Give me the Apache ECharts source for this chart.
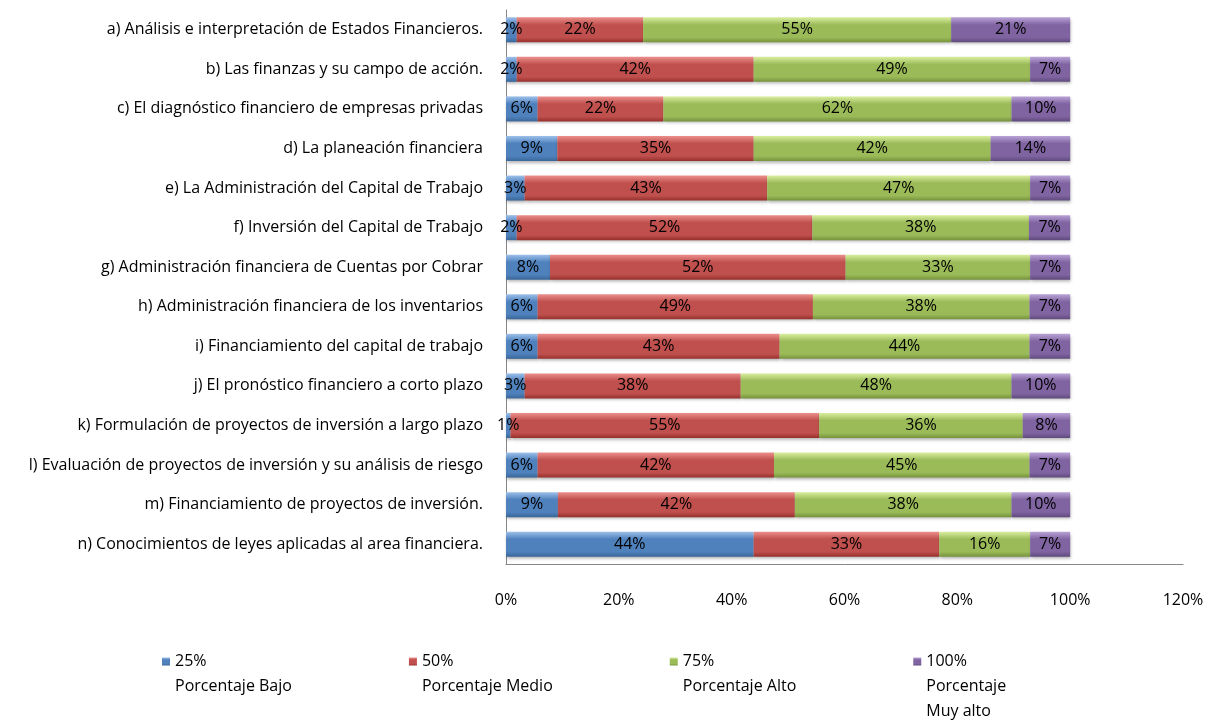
<!DOCTYPE html>
<html>
<head>
<meta charset="utf-8">
<script src="https://cdn.jsdelivr.net/npm/echarts@6/dist/echarts.min.js"></script>
<style>
    html, body { margin: 0; padding: 0; background: #fff; }
    #chart { width: 1207px; height: 722px; }
</style>
</head>
<body>
<div id="chart"></div>
<script>
var categories = [
    'a) Análisis e interpretación de Estados Financieros.',
    'b) Las finanzas y su campo de acción.',
    'c) El diagnóstico financiero de empresas privadas',
    'd) La planeación financiera',
    'e) La Administración del Capital de Trabajo',
    'f) Inversión del Capital de Trabajo',
    'g) Administración financiera de Cuentas por Cobrar',
    'h) Administración financiera de los inventarios',
    'i) Financiamiento del capital de trabajo',
    'j) El pronóstico financiero a corto plazo',
    'k) Formulación de proyectos de inversión a largo plazo',
    'l) Evaluación de proyectos de inversión y su análisis de riesgo',
    'm) Financiamiento de proyectos de inversión.',
    'n) Conocimientos de leyes aplicadas al area financiera.'
];

var seriesNames = [
    '25%\nPorcentaje Bajo',
    '50%\nPorcentaje Medio',
    '75%\nPorcentaje Alto',
    '100%\nPorcentaje\nMuy alto'
];

// values (percent of answers)
var bajo   = [1.9, 1.9, 5.6, 9.1, 3.3, 1.9, 7.8, 5.6, 5.6, 3.3, 0.8, 5.6, 9.2, 43.9];
var medio  = [22.4, 42.0, 22.3, 34.8, 43.0, 52.4, 52.4, 48.8, 42.9, 38.3, 54.7, 41.9, 42.0, 32.9];
var alto   = [54.6, 49.0, 61.7, 42.0, 46.6, 38.4, 32.7, 38.4, 44.3, 48.0, 36.1, 45.3, 38.4, 16.1];
var muyAlto = [21.1, 7.1, 10.4, 14.1, 7.1, 7.3, 7.1, 7.2, 7.2, 10.4, 8.4, 7.2, 10.4, 7.1];

var xTicks = [0, 20, 40, 60, 80, 100, 120];

var palette = [
    ['#9cc0ea', '#4f81bd', '#3a6799'],
    ['#ec8f8c', '#c0504d', '#96302d'],
    ['#d9ee9e', '#9bbb59', '#76923c'],
    ['#b9a3d6', '#8064a2', '#5f4a7c']
];

var FONT = 'Open Sans';
var FS = 16;

function barColor(i) {
    var c = palette[i];
    return new echarts.graphic.LinearGradient(0, 0, 0, 1, [
        { offset: 0, color: c[0] },
        { offset: 0.3, color: c[1] },
        { offset: 0.8, color: c[1] },
        { offset: 1, color: c[2] }
    ]);
}

function makeSeries(i, values) {
    return {
        name: seriesNames[i],
        type: 'bar',
        stack: 'total',
        barWidth: 25,
        data: values,
        itemStyle: {
            color: barColor(i),
            shadowColor: 'rgba(0,0,0,0.3)',
            shadowBlur: 3,
            shadowOffsetX: 1,
            shadowOffsetY: 2
        },
        label: {
            show: true,
            position: 'inside',
            color: '#000',
            fontFamily: FONT,
            fontSize: FS,
            formatter: function (p) {
                return Math.round(p.value) + '%';
            }
        }
    };
}

// blank lines on top keep the first text line level with the legend icon
function legendText(name) {
    var n = name.split('\n').length;
    var pad = '';
    for (var i = 1; i < n; i++) pad += ' \n';
    return pad + name;
}

var chart = echarts.init(document.getElementById('chart'), null, { renderer: 'canvas' });

chart.setOption({
    animation: false,
    backgroundColor: '#fff',
    textStyle: { fontFamily: FONT, color: '#000' },
    grid: { left: 506, right: 24, top: 10, bottom: 158, containLabel: false },
    legend: {
        left: 162,
        top: 599,
        padding: 0,
        icon: 'rect',
        itemWidth: 8,
        itemHeight: 8,
        itemGap: 117,
        formatter: legendText,
        textStyle: { fontFamily: FONT, fontSize: FS, color: '#000', lineHeight: 25 },
        data: seriesNames
    },
    xAxis: {
        type: 'value',
        min: xTicks[0],
        max: xTicks[xTicks.length - 1],
        interval: xTicks[1] - xTicks[0],
        splitLine: { show: false },
        axisTick: { show: false },
        axisLine: { show: true, lineStyle: { color: '#868686', width: 1 } },
        axisLabel: { formatter: '{value}%', margin: 28, fontSize: FS, color: '#000', fontFamily: FONT }
    },
    yAxis: {
        type: 'category',
        inverse: true,
        data: categories,
        axisTick: { show: false },
        axisLine: { show: true, lineStyle: { color: '#868686', width: 1 } },
        axisLabel: { margin: 23, fontSize: FS, color: '#000', fontFamily: FONT }
    },
    series: [
        makeSeries(0, bajo),
        makeSeries(1, medio),
        makeSeries(2, alto),
        makeSeries(3, muyAlto)
    ]
});
</script>
</body>
</html>
